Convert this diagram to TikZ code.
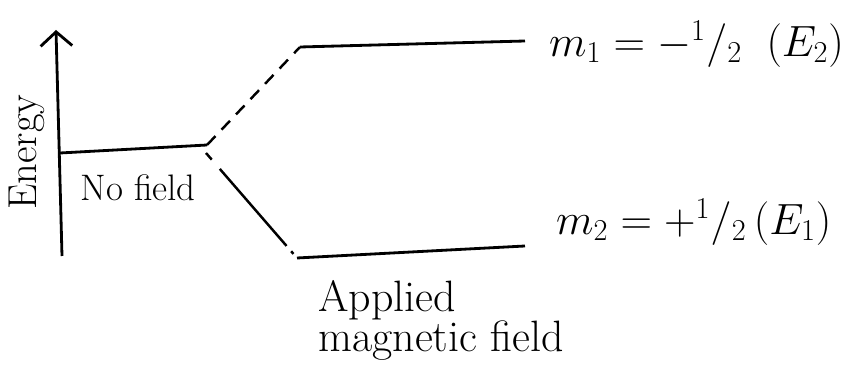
\documentclass[tikz,border=0pt]{standalone}
\usetikzlibrary{arrows.meta, positioning}

\newcommand{\halfx}{{}^{1}/{}_{2}}

\tikzset{
  level/.style={line width=1.6pt},
  split/.style={line width=1.4pt, dash pattern=on 7pt off 5pt},
  lbl/.style={font=\fontsize{21}{24}\selectfont},
  spin/.style={font=\fontsize{24}{28}\selectfont, anchor=west},
}

\begin{document}
\begin{tikzpicture}[x=0.02cm, y=-0.02cm]
  \useasboundingbox (0,0) rectangle (847,367);
  % energy axis
  \coordinate (ybot) at (62,256);
  \coordinate (ytop) at (56,30);
  \draw[-{Straight Barb[length=8pt,width=18pt]}, line width=1.6pt] (ybot) -- (ytop);
  \node[lbl, font=\fontsize{23}{26}\selectfont, rotate=90] (energy) at (27,152) {Energy};
  % levels
  \coordinate (nf-l) at (60,153);
  \coordinate (nf-r) at (207,145);
  \coordinate (nf-d) at (206,153);
  \coordinate (up-l) at (300,47);
  \coordinate (up-r) at (525,41);
  \coordinate (lo-l) at (297,258);
  \coordinate (lo-r) at (525,246);
  \draw[level] (nf-l) -- (nf-r);
  \draw[level] (up-l) -- (up-r);
  \draw[level] (lo-l) -- (lo-r);
  \draw[split] (nf-r) -- (up-l);
  \draw[split, dash pattern=on 5pt off 7pt on 58pt off 4pt on 2pt off 4pt on 2pt off 4pt on 10pt] (nf-d) -- (lo-l);
  % labels
  \node[lbl] (nofield) at (138,188) {No field};
  \node[spin] (m1) at (543,44) {$m_1 = -\halfx\;\;(E_2)$};
  \node[spin] (m2) at (550,222) {$m_2 = +\halfx\,(E_1)$};
  \node[lbl, font=\fontsize{25}{23}\selectfont, align=left, anchor=north west, inner sep=0pt] (applied) at (318,280) {Applied\\magnetic field};
\end{tikzpicture}
\end{document}
